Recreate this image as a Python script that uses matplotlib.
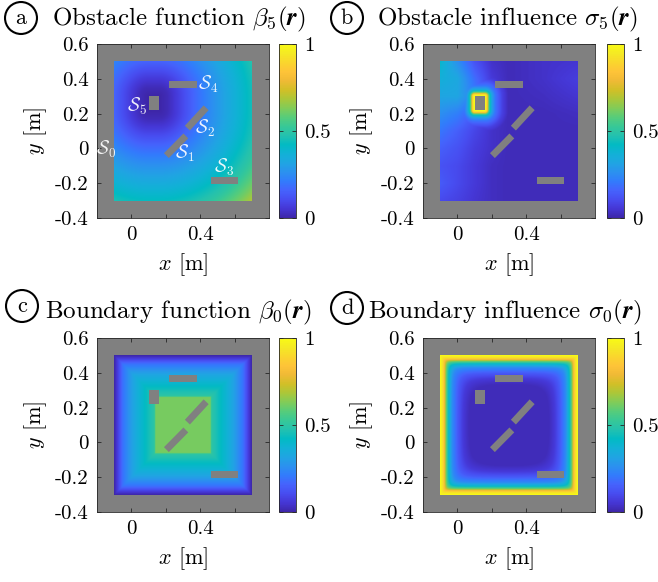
import numpy as np
import matplotlib
matplotlib.use("Agg")
import matplotlib.pyplot as plt
from matplotlib.colors import LinearSegmentedColormap
from matplotlib.patches import Rectangle

plt.rcParams["font.family"] = "cmr10"
plt.rcParams["mathtext.fontset"] = "cm"
plt.rcParams["axes.unicode_minus"] = False
plt.rcParams["axes.formatter.use_mathtext"] = True

# parula (MATLAB) anchor colours
PARULA = [
    (0.2422, 0.1504, 0.6603), (0.2706, 0.2147, 0.8364), (0.2813, 0.3006, 0.9414),
    (0.2699, 0.3892, 0.9906), (0.1963, 0.4847, 0.9892), (0.1687, 0.5703, 0.9359),
    (0.1248, 0.6459, 0.8883), (0.0689, 0.6948, 0.8394), (0.0067, 0.7312, 0.7660),
    (0.1408, 0.7584, 0.6842), (0.2161, 0.7843, 0.5923), (0.3406, 0.8008, 0.4789),
    (0.5044, 0.7993, 0.3480), (0.6720, 0.7793, 0.2227), (0.8203, 0.7498, 0.1535),
    (0.9393, 0.7288, 0.2100), (0.9970, 0.7659, 0.2199), (0.9786, 0.8386, 0.1766),
    (0.9597, 0.9135, 0.1423), (0.9769, 0.9839, 0.0805),
]
parula = LinearSegmentedColormap.from_list("parula", PARULA)
GREY = "#808080"

# domain and obstacles (m)
domain = (-0.1, 0.7, -0.3, 0.5)
obst_names = ["S1", "S2", "S3", "S4", "S5"]
obst_cx = [0.26, 0.38, 0.54, 0.30, 0.13]
obst_cy = [0.015, 0.175, -0.182, 0.37, 0.26]
obst_len = [0.16, 0.16, 0.16, 0.16, 0.06]
obst_wid = [0.04, 0.04, 0.04, 0.04, 0.08]
obst_ang = [45, 47, 0, 0, 0]

# labels in panel a
lab_text = [r"$\mathcal{S}_0$", r"$\mathcal{S}_1$", r"$\mathcal{S}_2$", r"$\mathcal{S}_3$",
            r"$\mathcal{S}_4$", r"$\mathcal{S}_5$"]
lab_x = [-0.145, 0.31, 0.43, 0.537, 0.446, 0.034]
lab_y = [-0.003, -0.027, 0.117, -0.107, 0.37, 0.244]

# beta_5 vs distance from S5
b5_d = [0.0, 0.05, 0.10, 0.15, 0.20, 0.30, 0.40, 0.50, 0.60, 0.70, 0.80]
b5_v = [0.0, 0.02, 0.06, 0.11, 0.16, 0.25, 0.33, 0.41, 0.50, 0.62, 0.76]

# sigma_5 near S5 vs distance from its box
s5_d = [0.0, 0.008, 0.015, 0.025, 0.04, 0.06, 0.10, 0.15]
s5_v = [1.0, 0.95, 0.80, 0.50, 0.32, 0.20, 0.08, 0.0]
# sigma_5 background, coarse samples
s5_gx = [-0.1, 0.0, 0.1, 0.2, 0.3, 0.5, 0.7]
s5_gy = [-0.3, -0.2, -0.1, 0.0, 0.1, 0.2, 0.3, 0.4, 0.5]
s5_grid = [
    [0.10, 0.08, 0.05, 0.03, 0.02, 0.02, 0.02],
    [0.14, 0.10, 0.06, 0.03, 0.02, 0.02, 0.02],
    [0.12, 0.10, 0.06, 0.03, 0.02, 0.02, 0.02],
    [0.15, 0.12, 0.07, 0.04, 0.02, 0.02, 0.02],
    [0.20, 0.15, 0.09, 0.04, 0.02, 0.02, 0.02],
    [0.26, 0.22, 0.14, 0.06, 0.02, 0.02, 0.03],
    [0.32, 0.32, 0.22, 0.07, 0.02, 0.03, 0.05],
    [0.36, 0.33, 0.18, 0.06, 0.02, 0.04, 0.07],
    [0.40, 0.26, 0.12, 0.04, 0.02, 0.04, 0.05],
]

# beta_0 vs distance from outer wall (panel c)
b0_d = [0.0, 0.02, 0.05, 0.10, 0.15, 0.20, 0.235, 0.24, 0.40]
b0_v = [0.0, 0.07, 0.19, 0.30, 0.38, 0.45, 0.50, 0.62, 0.62]

# sigma_0 vs distance from outer wall (panel d)
s0_d = [0.0, 0.015, 0.025, 0.035, 0.05, 0.07, 0.10, 0.13, 0.16, 0.40]
s0_v = [1.0, 0.92, 0.80, 0.60, 0.40, 0.25, 0.14, 0.06, 0.02, 0.02]

n = 320
xs = np.linspace(domain[0], domain[1], n)
ys = np.linspace(domain[2], domain[3], n)
X, Y = np.meshgrid(xs, ys)


def box_dist(i):
    hx, hy = obst_len[i] / 2, obst_wid[i] / 2
    dx = np.maximum(np.abs(X - obst_cx[i]) - hx, 0)
    dy = np.maximum(np.abs(Y - obst_cy[i]) - hy, 0)
    return np.hypot(dx, dy)


d5 = box_dist(4)
wall = np.stack([X - domain[0], domain[1] - X, Y - domain[2], domain[3] - Y])
d_inf = wall.min(axis=0)
d_soft = (np.clip(wall, 1e-4, None) ** -3).sum(axis=0) ** (-1 / 3)

rows = np.array([np.interp(xs, s5_gx, r) for r in s5_grid])
bg5 = np.array([np.interp(ys, s5_gy, rows[:, j]) for j in range(n)]).T

fields = [
    np.interp(d5, b5_d, b5_v),
    np.maximum(bg5, np.interp(d5, s5_d, s5_v)),
    np.interp(d_inf, b0_d, b0_v),
    np.interp(d_soft, s0_d, s0_v),
]
titles = [r"Obstacle function $\beta_5(\boldsymbol{r})$",
          r"Obstacle influence $\sigma_5(\boldsymbol{r})$",
          r"Boundary function $\beta_0(\boldsymbol{r})$",
          r"Boundary influence $\sigma_0(\boldsymbol{r})$"]
letters = ["a", "b", "c", "d"]

W, H = 658, 582
fig = plt.figure(figsize=(W / 100, H / 100), dpi=100)
ax_px = [(97, 44), (423, 44), (97, 338), (423, 338)]
cb_px = [279, 607, 279, 607]
circ_px = [(21, 18), (347, 18), (22, 306), (347, 308)]
title_px = [(52, 25), (377, 25), (45, 318), (368, 318)]

for k in range(4):
    x0, y0 = ax_px[k]
    ax = fig.add_axes([x0 / W, 1 - (y0 + 174) / H, 172 / W, 174 / H])
    ax.set_facecolor(GREY)
    im = ax.imshow(fields[k], extent=domain, origin="lower", cmap=parula,
                   vmin=0, vmax=1, interpolation="bilinear", aspect="auto")
    for i in range(5):
        L, Wd = obst_len[i], obst_wid[i]
        ax.add_patch(Rectangle((obst_cx[i] - L / 2, obst_cy[i] - Wd / 2), L, Wd,
                               angle=obst_ang[i], rotation_point="center",
                               facecolor=GREY, edgecolor="none"))
    ax.set_xlim(-0.2, 0.8)
    ax.set_ylim(-0.4, 0.6)
    ax.set_xticks([0, 0.2, 0.4, 0.6])
    ax.set_xticklabels(["0", "", "0.4", ""])
    ax.set_yticks([-0.4, -0.2, 0, 0.2, 0.4, 0.6])
    ax.set_yticklabels(["-0.4", "-0.2", "0", "0.2", "0.4", "0.6"])
    ax.tick_params(direction="in", top=True, right=True, length=3, width=0.6,
                   color="#262626", labelsize=15, pad=6)
    for s in ax.spines.values():
        s.set_color("#262626")
        s.set_linewidth(0.6)
    ax.set_xlabel(r"$x$ [m]", fontsize=16, labelpad=5)
    ax.set_ylabel(r"$y$ [m]", fontsize=16, labelpad=4)

    if k == 0:
        for t, lx, ly in zip(lab_text, lab_x, lab_y):
            ax.text(lx, ly, t, color="white", fontsize=13.5, ha="center", va="center",
                    alpha=0.92)

    cax = fig.add_axes([cb_px[k] / W, 1 - (y0 + 174) / H, 17 / W, 174 / H])
    cb = fig.colorbar(im, cax=cax, ticks=[0, 0.5, 1])
    cb.ax.set_yticklabels(["0", "0.5", "1"])
    cb.ax.tick_params(direction="in", length=3, width=0.6, labelsize=15, pad=6,
                      left=True, color="#262626")
    cb.outline.set_edgecolor("#262626")
    cb.outline.set_linewidth(0.6)

    cx, cy = circ_px[k]
    fig.text(cx / W, 1 - cy / H, letters[k], fontsize=16, ha="center", va="center",
             bbox=dict(boxstyle="circle,pad=0.28", fc="white", ec="black", lw=1.5))
    tx, ty = title_px[k]
    fig.text(tx / W, 1 - ty / H, titles[k], fontsize=18, ha="left", va="baseline")

fig.savefig("out.png", dpi=100)
